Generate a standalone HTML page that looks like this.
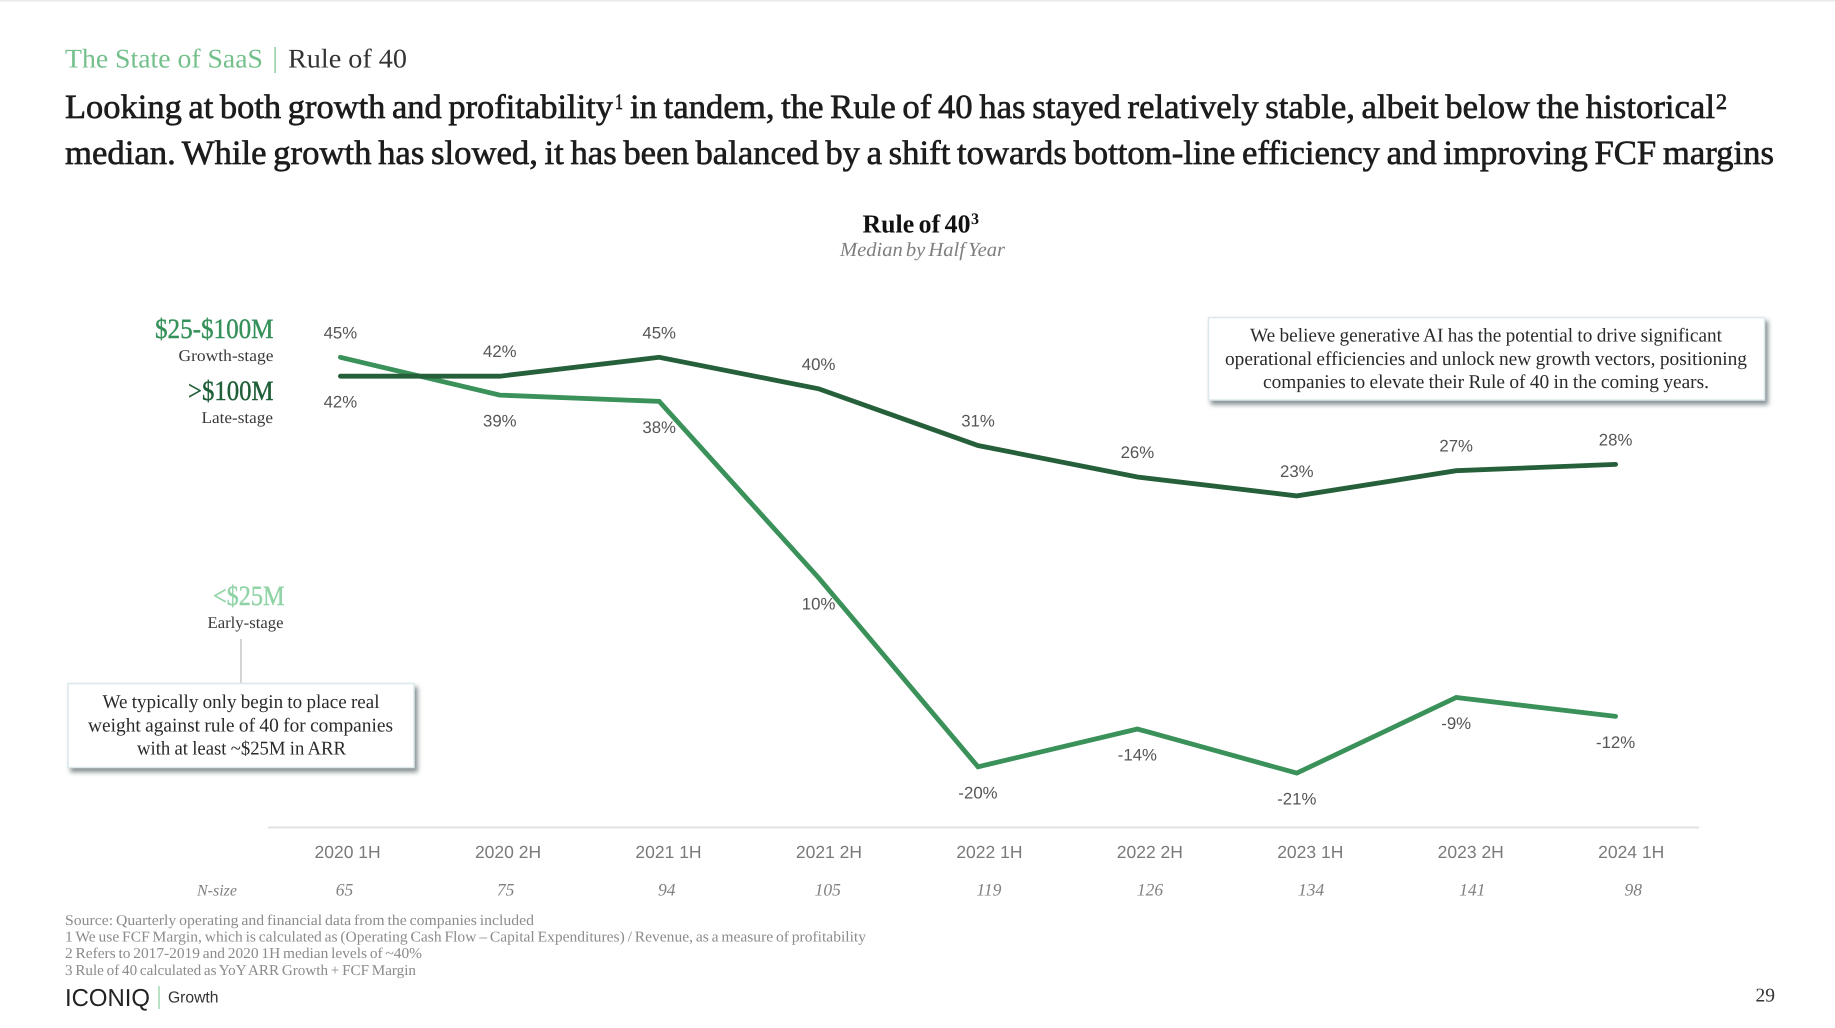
<!DOCTYPE html>
<html lang="en">
<head>
<meta charset="utf-8">
<title>The State of SaaS | Rule of 40</title>
<style>
html,body{margin:0;padding:0;background:#fff;}
body{width:1835px;height:1028px;overflow:hidden;}
svg{display:block;text-rendering:geometricPrecision;}
.serif{font-family:"Liberation Serif","Noto Serif CJK SC",serif;}
.sans{font-family:"Liberation Sans","DejaVu Sans",sans-serif;}
.headline{font-size:34px;fill:#1c1c1c;stroke:#1c1c1c;stroke-width:.65px;word-spacing:-2px;}
.sup{font-size:22px;fill:#1c1c1c;stroke:#1c1c1c;stroke-width:.7px;}
.note{font-size:19.5px;fill:#2a2a2a;word-spacing:-.5px;}
.foot{font-size:15px;fill:#8b8b8b;word-spacing:-1px;}
.stage{font-size:16.5px;fill:#3a3a3a;}
.big{font-size:28px;stroke-width:.4px;}
.callout{fill:#fff;stroke:#dbe8ec;stroke-width:1.5px;filter:drop-shadow(3px 4px 2.5px rgba(95,108,112,.75));}
</style>
</head>
<body>
<svg id="slide" width="1835" height="1028" viewBox="0 0 1835 1028" xmlns="http://www.w3.org/2000/svg">
  <rect x="0" y="0" width="1835" height="1.5" fill="#e8e8e8"/>

  <text class="serif" x="65" y="67.5" font-size="27" fill="#74c08c" textLength="198" lengthAdjust="spacingAndGlyphs">The State of SaaS</text>
  <rect x="274.5" y="47" width="1.2" height="26" fill="#74c08c"/>
  <text class="serif" x="288" y="67.5" font-size="27" fill="#333" textLength="119" lengthAdjust="spacingAndGlyphs">Rule of 40</text>

  <text class="serif headline" x="65" y="118" textLength="548" lengthAdjust="spacingAndGlyphs">Looking at both growth and profitability</text>
  <text class="serif sup" x="615" y="109" textLength="8" lengthAdjust="spacingAndGlyphs">1</text>
  <text class="serif headline" x="630" y="118" textLength="1085" lengthAdjust="spacingAndGlyphs">in tandem, the Rule of 40 has stayed relatively stable, albeit below the historical</text>
  <text class="serif sup" x="1716" y="109" textLength="11" lengthAdjust="spacingAndGlyphs">2</text>
  <text class="serif headline" x="65" y="164" textLength="1709" lengthAdjust="spacingAndGlyphs">median. While growth has slowed, it has been balanced by a shift towards bottom-line efficiency and improving FCF margins</text>

  <text class="serif" x="862.5" y="232.5" font-size="26" font-weight="bold" fill="#111" textLength="108" lengthAdjust="spacingAndGlyphs" word-spacing="-2">Rule of 40</text>
  <text class="serif" x="971" y="224" font-size="16" font-weight="bold" fill="#111">3</text>
  <text class="serif" x="840" y="256" font-size="20" font-style="italic" fill="#7f7f7f" textLength="165" lengthAdjust="spacingAndGlyphs" word-spacing="-2">Median by Half Year</text>

  <text class="serif big" x="155" y="338" fill="#35915a" stroke="#35915a" textLength="118.5" lengthAdjust="spacingAndGlyphs">$25-$100M</text>
  <text class="serif stage" x="178.5" y="361" textLength="95" lengthAdjust="spacingAndGlyphs">Growth-stage</text>
  <text class="serif big" x="188" y="400" fill="#1f5f38" stroke="#1f5f38" textLength="85.5" lengthAdjust="spacingAndGlyphs">&gt;$100M</text>
  <text class="serif stage" x="201.5" y="423" textLength="71.5" lengthAdjust="spacingAndGlyphs">Late-stage</text>
  <text class="serif big" x="213" y="605" fill="#8fd3a6" stroke="#8fd3a6" textLength="71.5" lengthAdjust="spacingAndGlyphs">&lt;$25M</text>
  <text class="serif stage" x="207.5" y="628" textLength="76" lengthAdjust="spacingAndGlyphs">Early-stage</text>

  <line x1="241" y1="639" x2="241" y2="683" stroke="#bdbdbd" stroke-width="1.3"/>
  <rect class="callout" x="68" y="683.5" width="346" height="84"/>
  <text class="serif note" x="102.5" y="708" textLength="277" lengthAdjust="spacingAndGlyphs">We typically only begin to place real</text>
  <text class="serif note" x="88" y="731.5" textLength="305" lengthAdjust="spacingAndGlyphs">weight against rule of 40 for companies</text>
  <text class="serif note" x="137" y="754.5" textLength="209" lengthAdjust="spacingAndGlyphs">with at least ~$25M in ARR</text>

  <rect class="callout" x="1208.5" y="317.5" width="556" height="82.5"/>
  <text class="serif note" x="1250" y="341.5" textLength="472" lengthAdjust="spacingAndGlyphs">We believe generative AI has the potential to drive significant</text>
  <text class="serif note" x="1225" y="365" textLength="522" lengthAdjust="spacingAndGlyphs">operational efficiencies and unlock new growth vectors, positioning</text>
  <text class="serif note" x="1263" y="388" textLength="446" lengthAdjust="spacingAndGlyphs">companies to elevate their Rule of 40 in the coming years.</text>

  <g id="chart"></g>

  <text class="serif" x="197" y="895.5" font-size="16" font-style="italic" fill="#808080" textLength="40" lengthAdjust="spacingAndGlyphs">N-size</text>

  <text class="serif foot" x="65" y="925" textLength="469" lengthAdjust="spacingAndGlyphs">Source: Quarterly operating and financial data from the companies included</text>
  <text class="serif foot" x="65" y="941.5" textLength="801" lengthAdjust="spacingAndGlyphs">1 We use FCF Margin, which is calculated as (Operating Cash Flow – Capital Expenditures) / Revenue, as a measure of profitability</text>
  <text class="serif foot" x="65" y="958" textLength="357" lengthAdjust="spacingAndGlyphs">2 Refers to 2017-2019 and 2020 1H median levels of ~40%</text>
  <text class="serif foot" x="65" y="975" textLength="351" lengthAdjust="spacingAndGlyphs">3 Rule of 40 calculated as YoY ARR Growth + FCF Margin</text>

  <text class="sans" x="65" y="1006" font-size="24.5" fill="#222" textLength="85" lengthAdjust="spacingAndGlyphs">ICONIQ</text>
  <rect x="158.5" y="986" width="1" height="23" fill="#74c08c"/>
  <text class="sans" x="168" y="1002.5" font-size="16" fill="#333" textLength="50.5" lengthAdjust="spacingAndGlyphs">Growth</text>
  <text class="serif" x="1755.5" y="1001.5" font-size="19.5" fill="#333">29</text>
</svg>

<script>
const categories = ["2020 1H","2020 2H","2021 1H","2021 2H","2022 1H","2022 2H","2023 1H","2023 2H","2024 1H"];
const nSizes = [65,75,94,105,119,126,134,141,98];
const growthStage = [45,39,38,10,-20,-14,-21,-9,-12];
const lateStage = [42,42,45,40,31,26,23,27,28];

const NS = "http://www.w3.org/2000/svg";
const chart = document.getElementById("chart");

function xScale(i){ return 340.4 + i * 159.4; }
function yScale(v){ return 640.8 - v * 6.3; }
function tickX(i){ return 347.6 + i * 160.45; }
function nSizeX(i){ return 344.5 + i * 161.1; }

function makeText(str, x, y, size, fill, cls, anchor){
  const t = document.createElementNS(NS, "text");
  t.setAttribute("x", x);
  t.setAttribute("y", y);
  t.setAttribute("font-size", size);
  t.setAttribute("fill", fill);
  t.setAttribute("class", cls);
  t.setAttribute("text-anchor", anchor || "middle");
  t.textContent = str;
  chart.appendChild(t);
  return t;
}

const axisLine = document.createElementNS(NS, "line");


axisLine.setAttribute("x1", 268);
axisLine.setAttribute("x2", 1699);
axisLine.setAttribute("y1", 827.5);
axisLine.setAttribute("y2", 827.5);
axisLine.setAttribute("stroke", "#e2e2e2");
axisLine.setAttribute("stroke-width", 2);
chart.appendChild(axisLine);

function drawLine(values, color, name){
  const p = document.createElementNS(NS, "polyline");
  
  
  p.setAttribute("points", values.map((v, i) => xScale(i) + "," + yScale(v)).join(" "));
  p.setAttribute("fill", "none");
  p.setAttribute("stroke", color);
  p.setAttribute("stroke-width", 4.8);
  p.setAttribute("stroke-linecap", "round");
  p.setAttribute("stroke-linejoin", "miter");
  chart.appendChild(p);
}
drawLine(growthStage, "#3a9159", "growth-stage-line");
drawLine(lateStage, "#25603a", "late-stage-line");

function drawLabels(values, other, name){
  values.forEach((v, i) => {
    const above = v >= other[i];
    const y = yScale(v) + (above ? -19 : 31.5);
    const label = makeText(v + "%", xScale(i), y, 16.8, "#555", "sans");
    
    
  });
}
drawLabels(growthStage, lateStage, "growth-stage-value-label");
drawLabels(lateStage, growthStage, "late-stage-value-label");

categories.forEach((c, i) => {
  const tick = makeText(c, tickX(i), 858, 17.5, "#7a7a7a", "sans");
  
  
});

nSizes.forEach((n, i) => {
  const size = makeText(n, nSizeX(i), 895.5, 17.5, "#808080", "serif");
  size.setAttribute("font-style", "italic");
  
  
});
</script>
</body>
</html>
